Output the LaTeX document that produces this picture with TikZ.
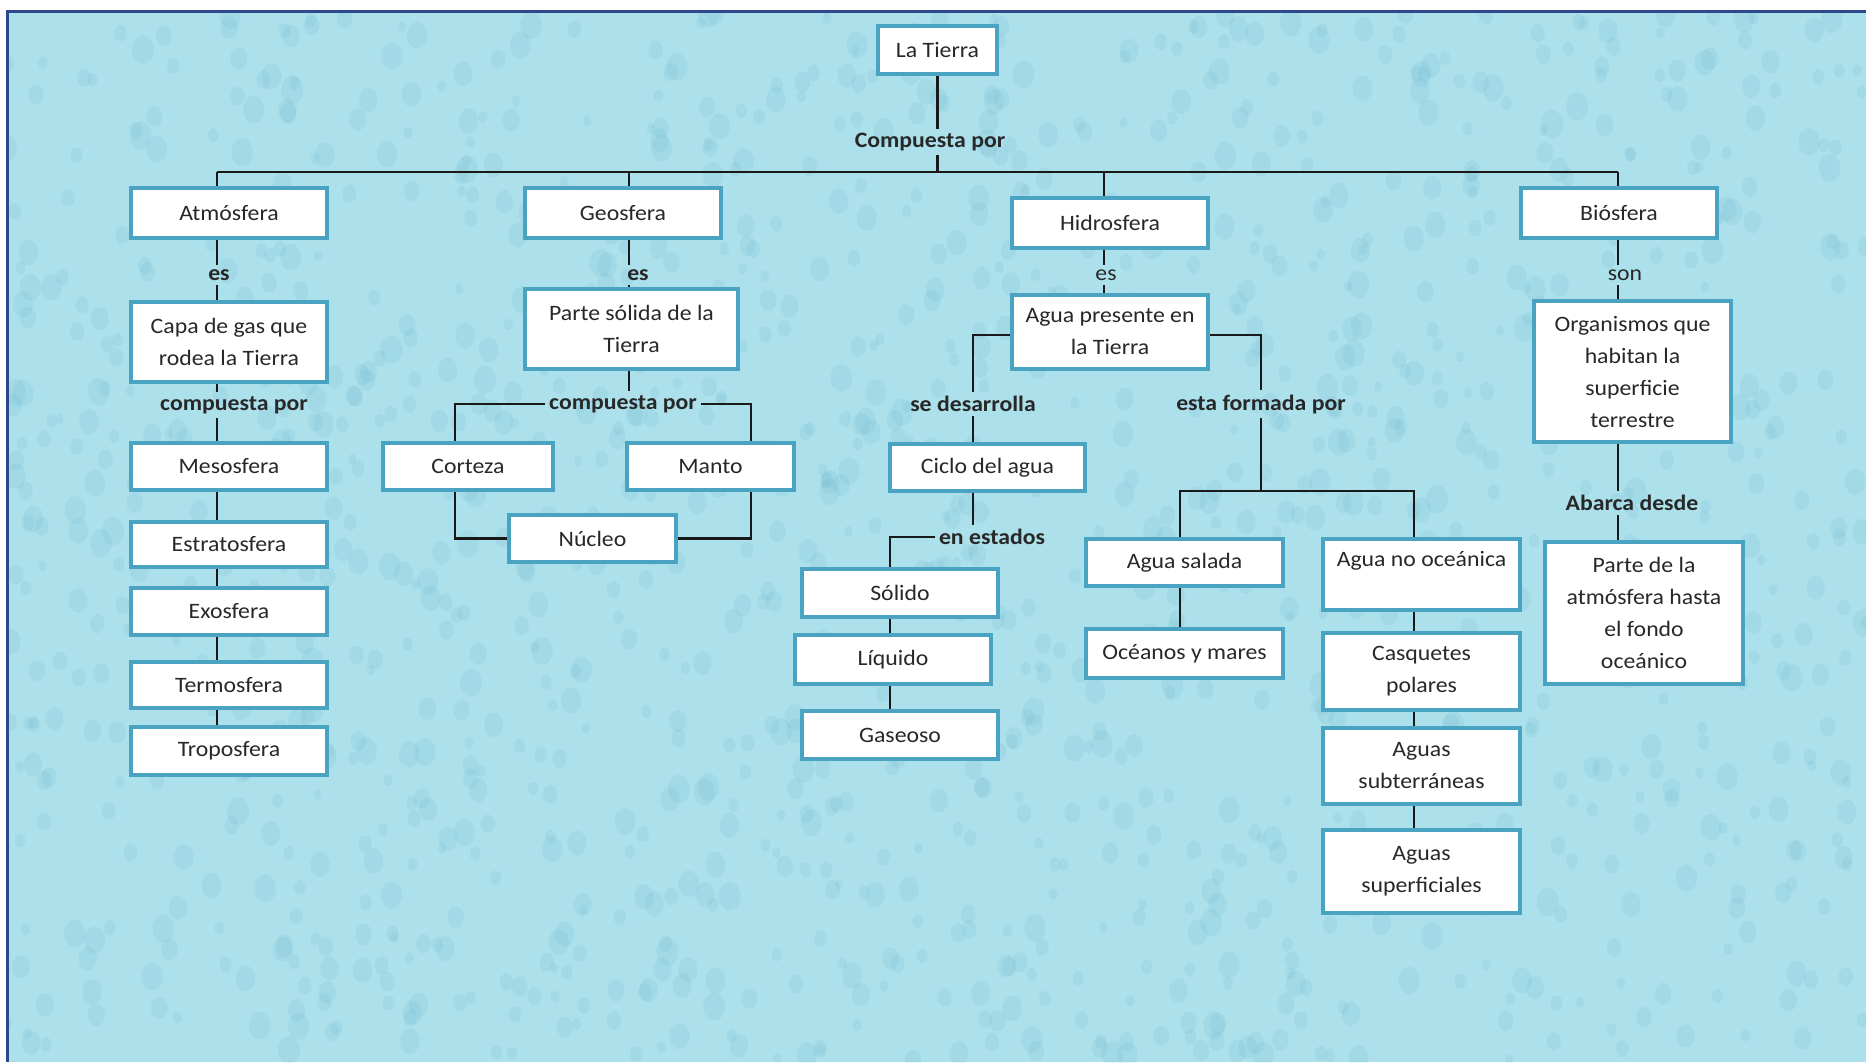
\documentclass[tikz,border=0pt]{standalone}
\usepackage{fontspec}
\setmainfont{Carlito}[FakeStretch=1.08]
\usetikzlibrary{calc}
\definecolor{bgc}{RGB}{172,224,235}
\definecolor{dropc}{RGB}{110,185,205}
\definecolor{framec}{RGB}{46,72,140}
\definecolor{boxc}{RGB}{74,163,192}
\definecolor{txt}{RGB}{40,40,40}
\newcommand\fs{\fontsize{11}{16}\selectfont}
\pgfdeclarelayer{bg}
\pgfdeclarelayer{lines}
\pgfsetlayers{bg,lines,main}
\begin{document}
\begin{tikzpicture}[x=0.5pt,y=-0.5pt,
  box/.style={draw=boxc, line width=1.7pt, fill=white, inner sep=1pt, align=center, font=\fs, text=txt},
  lbl/.style={font=\fs\bfseries, text=txt, inner sep=2pt},
  lbln/.style={font=\fs, text=txt, inner sep=2pt},
  con/.style={line width=1.45pt, black!90}]
\useasboundingbox (0,0) rectangle (1866,1062);
\begin{pgfonlayer}{bg}
\fill[white] (0,0) rectangle (1866,1062);
\fill[bgc] (7,11) rectangle (1866,1062);
\begin{scope}
\clip (7,11) rectangle (1866,1062);
\pgfmathsetseed{7}
\foreach \i in {1,...,1400}{
  \pgfmathsetmacro{\px}{7+1859*rnd}
  \pgfmathsetmacro{\py}{11+1051*rnd}
  \pgfmathsetmacro{\rr}{4+7*rnd}
  \fill[dropc, opacity=0.16] (\px,\py) ellipse [x radius=\rr, y radius=1.3*\rr];
}
\end{scope}
\draw[framec, line width=1.5pt] (7,1062) -- (7,11) -- (1866,11);
\end{pgfonlayer}

% boxes
\node[box, minimum width=59.5pt, minimum height=24pt] (tierra) at (937.5,50) {La Tierra};

\node[box, minimum width=98pt, minimum height=25pt] (atm) at (229,213) {Atmósfera};
\node[box, minimum width=98pt, minimum height=40pt] (capa) at (229,342) {Capa de gas que\\rodea la Tierra};
\node[box, minimum width=98pt, minimum height=23.5pt] (meso) at (229,466.5) {Mesosfera};
\node[box, minimum width=98pt, minimum height=22.5pt] (estr) at (229,544.5) {Estratosfera};
\node[box, minimum width=98pt, minimum height=23.5pt] (exo) at (229,611.5) {Exosfera};
\node[box, minimum width=98pt, minimum height=23pt] (termo) at (229,685) {Termosfera};
\node[box, minimum width=98pt, minimum height=24pt] (tropo) at (229,751) {Troposfera};

\node[box, minimum width=98pt, minimum height=25pt] (geo) at (623,213) {Geosfera};
\node[box, minimum width=106.5pt, minimum height=40pt] (parte) at (631.5,329) {Parte sólida de la\\Tierra};
\node[box, minimum width=85pt, minimum height=23.5pt] (corteza) at (468,466.5) {Corteza};
\node[box, minimum width=83.5pt, minimum height=23.5pt] (manto) at (710.5,466.5) {Manto};
\node[box, minimum width=83.5pt, minimum height=23.5pt] (nucleo) at (592.5,538.5) {Núcleo};

\node[box, minimum width=98pt, minimum height=25pt] (hidro) at (1110,223) {Hidrosfera};
\node[box, minimum width=98pt, minimum height=37pt] (aguapres) at (1110,332) {Agua presente en\\la Tierra};
\node[box, minimum width=97.5pt, minimum height=23.5pt] (ciclo) at (987.5,467.5) {Ciclo del agua};
\node[box, minimum width=98pt, minimum height=24pt] (solido) at (900,593) {Sólido};
\node[box, minimum width=98pt, minimum height=24.5pt] (liquido) at (893,659.5) {Líquido};
\node[box, minimum width=98pt, minimum height=24pt] (gaseoso) at (900,735) {Gaseoso};
\node[box, minimum width=98.5pt, minimum height=23.5pt] (salada) at (1184.5,562.5) {Agua salada};
\node[box, minimum width=98.5pt, minimum height=24.5pt] (oceanos) at (1184.5,653.5) {Océanos y mares};
\node[box, minimum width=98.5pt, minimum height=35.5pt] (noocean) at (1421.5,574.5) {Agua no oceánica\\\mbox{}};
\node[box, minimum width=98.5pt, minimum height=38.5pt] (casq) at (1421.5,671.5) {Casquetes\\polares};
\node[box, minimum width=98.5pt, minimum height=38pt] (subt) at (1421.5,766) {Aguas\\subterráneas};
\node[box, minimum width=98.5pt, minimum height=41.5pt] (superf) at (1421.5,871.5) {Aguas\\superficiales};

\node[box, minimum width=98pt, minimum height=25pt] (bio) at (1619,213) {Biósfera};
\node[box, minimum width=98.5pt, minimum height=70.5pt] (organ) at (1632.5,371.5) {Organismos que\\habitan la\\superficie\\terrestre};
\node[box, minimum width=99pt, minimum height=71pt] (partatm) at (1644,613) {Parte de la\\atmósfera hasta\\el fondo\\oceánico};

% labels
\node[lbl] (c0) at (930,142) {Compuesta por};
\node[lbl] (es1) at (219,275) {es};
\node[lbl] (compA) at (234,405) {compuesta por};
\node[lbl] (es2) at (638,275) {es};
\node[lbl] (compG) at (623,404) {compuesta por};
\node[lbln] (es3) at (1106,275) {es};
\node[lbl] (desarr) at (973,404) {se desarrolla};
\node[lbl] (formada) at (1261,404) {esta formada por};
\node[lbl] (enest) at (992,537) {en estados};
\node[lbln] (son) at (1625,275) {son};
\node[lbl] (abarca) at (1632,503) {Abarca desde};

% junction coordinates
\coordinate (jA) at (217,172);
\coordinate (jG) at (629,172);
\coordinate (jT) at (938,172);
\coordinate (jH) at (1104,172);
\coordinate (jB) at (1618,172);
\coordinate (gL) at (455,406);
\coordinate (gR) at (751,406);
\coordinate (hL) at (971,335);
\coordinate (sx) at (890,537);
\coordinate (jF) at (1258,491);
\coordinate (fL) at (1180,491);
\coordinate (fR) at (1414,491);

\begin{pgfonlayer}{lines}
\draw[con] (tierra.south) -- (tierra.south |- c0.north);
\draw[con] (tierra.south |- c0.south) -- (tierra.south |- jT);
\draw[con] (jA) -- (jB);
\draw[con] (jA) -- (jA |- atm.north);
\draw[con] (jG) -- (jG |- geo.north);
\draw[con] (jH) -- (jH |- hidro.north);
\draw[con] (jB) -- (jB |- bio.north);
% atmosfera
\draw[con] (jA |- atm.south) -- (jA |- es1.north);
\draw[con] (jA |- es1.south) -- (jA |- capa.north);
\draw[con] (jA |- capa.south) -- (jA |- compA.north);
\draw[con] (jA |- compA.south) -- (jA |- meso.north);
\draw[con] (jA |- meso.south) -- (jA |- estr.north);
\draw[con] (jA |- estr.south) -- (jA |- exo.north);
\draw[con] (jA |- exo.south) -- (jA |- termo.north);
\draw[con] (jA |- termo.south) -- (jA |- tropo.north);
% geosfera
\draw[con] (jG |- geo.south) -- (jG |- es2.north);
\draw[con] (jG |- es2.south) -- (jG |- parte.north);
\draw[con] (jG |- parte.south) -- (jG |- compG.north);
\draw[con] (compG.west) -| (gL |- corteza.north);
\draw[con] (compG.east) -| (gR |- manto.north);
\draw[con] (gL |- corteza.south) |- (nucleo.west);
\draw[con] (gR |- manto.south) |- (nucleo.east);
% hidrosfera
\draw[con] (jH |- hidro.south) -- (jH |- es3.north);
\draw[con] (jH |- es3.south) -- (jH |- aguapres.north);
\draw[con] (aguapres.west |- hL) -| (desarr.north);
\draw[con] (aguapres.east |- hL) -| (formada.north);
\draw[con] (desarr.south) -- (desarr.south |- ciclo.north);
\draw[con] (desarr.south |- ciclo.south) -- (desarr.south |- enest.north);
\draw[con] (enest.west) -| (sx |- solido.north);
\draw[con] (sx |- solido.south) -- (sx |- liquido.north);
\draw[con] (sx |- liquido.south) -- (sx |- gaseoso.north);
\draw[con] (formada.south) -- (formada.south |- jF);
\draw[con] (fL |- salada.north) |- (fR) -- (fR |- noocean.north);
\draw[con] (fL |- salada.south) -- (fL |- oceanos.north);
\draw[con] (fR |- noocean.south) -- (fR |- casq.north);
\draw[con] (fR |- casq.south) -- (fR |- subt.north);
\draw[con] (fR |- subt.south) -- (fR |- superf.north);
% biosfera
\draw[con] (jB |- bio.south) -- (jB |- son.north);
\draw[con] (jB |- son.south) -- (jB |- organ.north);
\draw[con] (jB |- organ.south) -- (jB |- abarca.north);
\draw[con] (jB |- abarca.south) -- (jB |- partatm.north);
\end{pgfonlayer}
\end{tikzpicture}
\end{document}
